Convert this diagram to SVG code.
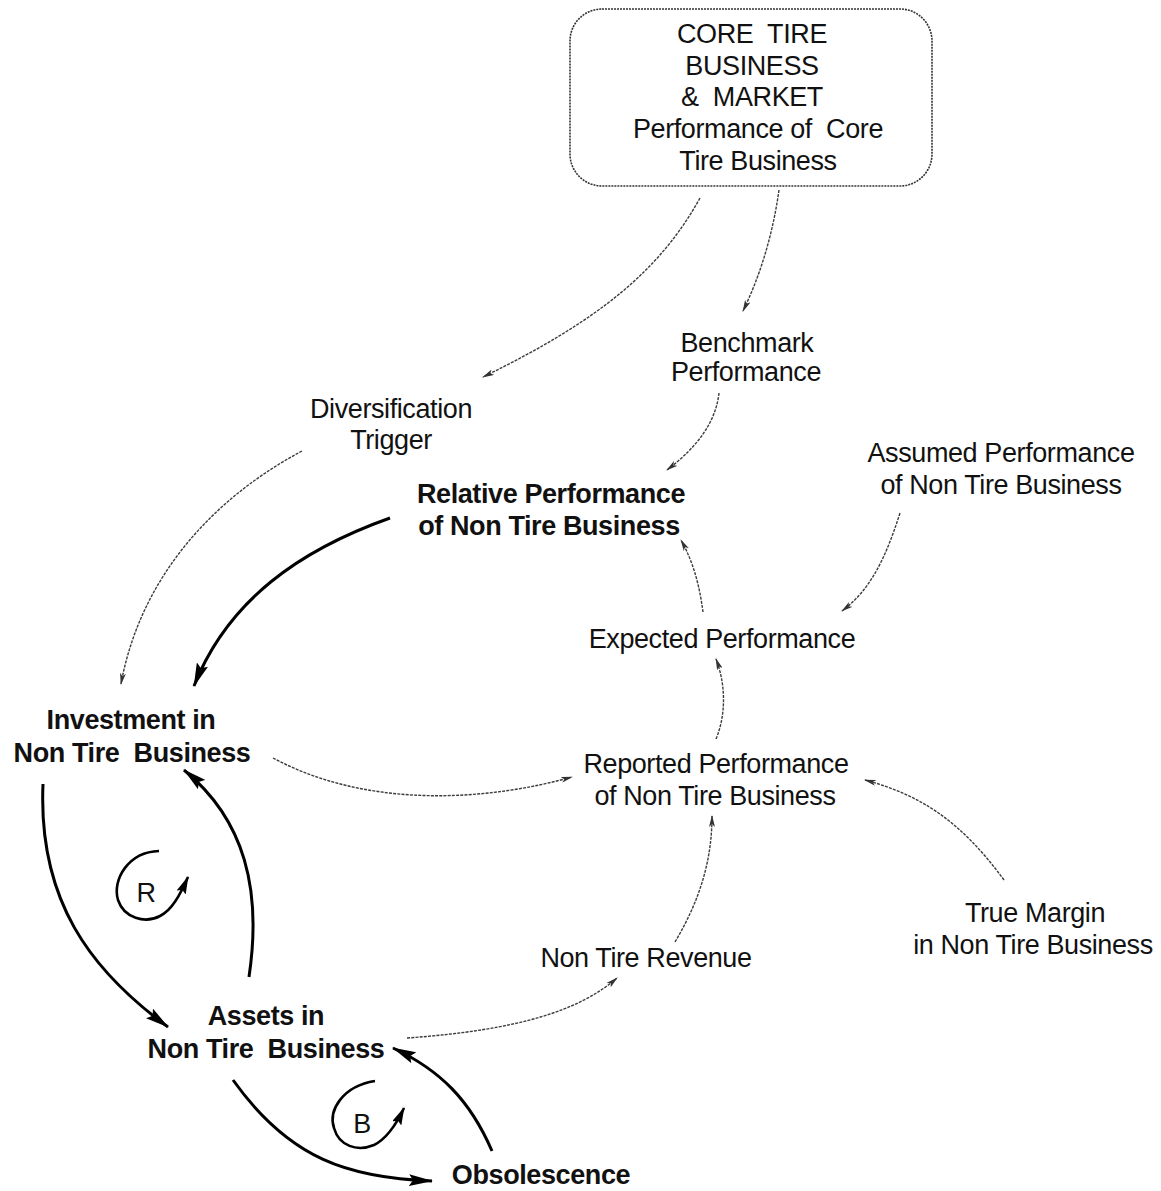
<svg xmlns="http://www.w3.org/2000/svg" width="1161" height="1191" viewBox="0 0 1161 1191">
<style>
text{font-family:"Liberation Sans",Arial,Helvetica,sans-serif;font-size:27px;letter-spacing:-0.4px;fill:#111;text-anchor:middle}
.b{font-weight:bold}
.thin{fill:none;stroke:#3c3c3c;stroke-width:1.4;stroke-dasharray:3 1.2;marker-end:url(#ta)}
.bold{fill:none;stroke:#000;stroke-width:3;marker-end:url(#ba)}
.loop{fill:none;stroke:#000;stroke-width:2.6;marker-end:url(#la)}
</style>
<defs>
<marker id="ta" viewBox="0 0 12 6" refX="11" refY="3" markerWidth="12" markerHeight="6" markerUnits="userSpaceOnUse" orient="auto"><path d="M0,0 L12,3 L0,6 L3,3 z" fill="#333"/></marker>
<marker id="ba" viewBox="0 0 24 12" refX="23" refY="6" markerWidth="24" markerHeight="12" markerUnits="userSpaceOnUse" orient="auto"><path d="M0,0 L24,6 L0,12 L4,6 z" fill="#000"/></marker>
<marker id="la" viewBox="0 0 18 10" refX="17" refY="5" markerWidth="18" markerHeight="10" markerUnits="userSpaceOnUse" orient="auto"><path d="M0,0 L18,5 L0,10 L3,5 z" fill="#000"/></marker>
</defs>
<rect width="1161" height="1191" fill="#fff"/>
<g id="connectors">
<path class="thin" d="M700,198 C660,270 600,320 483,377"/>
<path class="thin" d="M779,190 C772,240 758,280 743,311"/>
<path class="thin" d="M719,393 C716,420 700,445 667,470"/>
<path class="thin" d="M302,451 C210,500 140,580 121,684"/>
<path class="thin" d="M703,612 C700,590 695,565 681,540"/>
<path class="thin" d="M716,739 C726,715 726,685 716,659"/>
<path class="thin" d="M900,513 C885,560 870,590 842,611"/>
<path class="thin" d="M273,758 C370,810 490,800 572,777"/>
<path class="thin" d="M1004,880 C960,820 920,795 865,780"/>
<path class="thin" d="M675,942 C700,900 712,860 712,816"/>
<path class="thin" d="M407,1038 C520,1030 580,1010 617,978"/>
<path class="bold" d="M390,518 C300,550 228,600 194,686"/>
<path class="bold" d="M43,784 C38,900 90,970 168,1027"/>
<path class="bold" d="M249,977 C262,890 245,820 184,770"/>
<path class="bold" d="M233,1080 C290,1160 350,1178 432,1181"/>
<path class="bold" d="M492,1151 C470,1100 440,1070 393,1048"/>
</g>
<g id="core-tire-business">
<rect x="570" y="9" width="362" height="177" rx="32" fill="none" stroke="#333" stroke-width="1.6" stroke-dasharray="2 1"/>
<text x="752" y="43" xml:space="preserve">CORE  TIRE</text>
<text x="752" y="75">BUSINESS</text>
<text x="752" y="106" xml:space="preserve">&amp;  MARKET</text>
<text x="758" y="138" xml:space="preserve">Performance of  Core</text>
<text x="758" y="170">Tire Business</text>
</g>
<g id="benchmark-performance"><text x="747" y="352">Benchmark</text><text x="746" y="381">Performance</text></g>
<g id="diversification-trigger"><text x="391" y="418">Diversification</text><text x="391" y="449">Trigger</text></g>
<g id="relative-performance"><text class="b" x="551" y="503">Relative Performance</text><text class="b" x="549" y="535">of Non Tire Business</text></g>
<g id="assumed-performance"><text x="1001" y="462">Assumed Performance</text><text x="1001" y="494">of Non Tire Business</text></g>
<g id="expected-performance"><text x="722" y="648">Expected Performance</text></g>
<g id="investment"><text class="b" x="131" y="729">Investment in</text><text class="b" x="132" y="762" xml:space="preserve">Non Tire  Business</text></g>
<g id="reported-performance"><text x="716" y="773">Reported Performance</text><text x="715" y="805">of Non Tire Business</text></g>
<g id="true-margin"><text x="1035" y="922">True Margin</text><text x="1033" y="954">in Non Tire Business</text></g>
<g id="non-tire-revenue"><text x="646" y="967">Non Tire Revenue</text></g>
<g id="assets"><text class="b" x="266" y="1025">Assets in</text><text class="b" x="266" y="1058" xml:space="preserve">Non Tire  Business</text></g>
<g id="obsolescence"><text class="b" x="541" y="1184">Obsolescence</text></g>
<g id="loop-r">
<path class="loop" d="M159,851 C128,852 112,880 118,900 C124,918 145,924 160,916 C172,910 180,895 188,877"/>
<text x="146" y="902">R</text>
</g>
<g id="loop-b">
<path class="loop" d="M375,1081 C343,1086 328,1110 334,1128 C339,1146 357,1152 374,1145 C386,1139 396,1125 404,1108"/>
<text x="362" y="1133">B</text>
</g>
</svg>
